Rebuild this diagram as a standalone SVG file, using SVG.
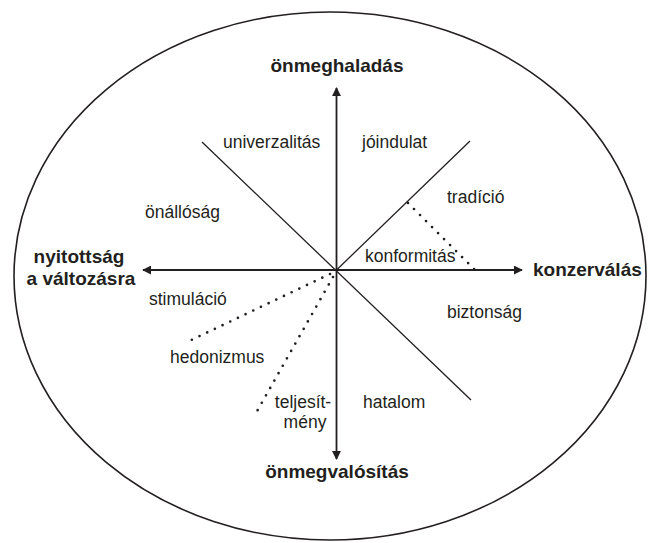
<svg xmlns="http://www.w3.org/2000/svg" width="651" height="543" viewBox="0 0 651 543">
<style>
.lbl{font-family:"Liberation Sans",Arial,sans-serif;font-size:17.5px;fill:#231f20}
.ttl{font-family:"Liberation Sans",Arial,sans-serif;font-size:19px;font-weight:bold;fill:#231f20}
.ln{stroke:#231f20;stroke-width:1.3;fill:none}
.ax{stroke:#231f20;stroke-width:1.8;fill:none}
.dot{stroke:#231f20;stroke-width:2.7;stroke-linecap:round;stroke-dasharray:0 8.5;fill:none}
</style>
<defs>
<marker id="ah" viewBox="0 0 10 10" refX="9" refY="5" markerWidth="5" markerHeight="5" orient="auto" markerUnits="strokeWidth">
<path d="M0,0 L10,5 L0,10 z" fill="#231f20"/>
</marker>
</defs>
<rect width="651" height="543" fill="#ffffff"/>
<g id="frame">
<ellipse cx="330" cy="276" rx="316" ry="264" fill="none" stroke="#231f20" stroke-width="1.6"/>
</g>
<g id="connectors">
<line class="ax" x1="336.5" y1="270" x2="336.5" y2="88" marker-end="url(#ah)"/>
<line class="ax" x1="336.5" y1="270" x2="336.5" y2="459" marker-end="url(#ah)"/>
<line class="ax" x1="336.5" y1="270" x2="143" y2="270" marker-end="url(#ah)"/>
<line class="ax" x1="336.5" y1="270" x2="522" y2="270" marker-end="url(#ah)"/>
<line class="ln" x1="202" y1="142" x2="471" y2="400"/>
<line class="ln" x1="336.5" y1="270" x2="470" y2="141"/>
<line class="dot" x1="408" y1="203" x2="476" y2="271"/>
<line class="dot" x1="330" y1="274" x2="185" y2="343"/>
<line class="dot" x1="333" y1="277" x2="256" y2="413"/>
</g>
<g id="node-onmeghaladas"><text class="ttl" x="337" y="72" text-anchor="middle">önmeghaladás</text></g>
<g id="node-onmegvalositas"><text class="ttl" x="337" y="478" text-anchor="middle">önmegvalósítás</text></g>
<g id="node-nyitottsag"><text class="ttl" x="79" y="263" text-anchor="middle">nyitottság</text><text class="ttl" x="81" y="285" text-anchor="middle">a változásra</text></g>
<g id="node-konzervalas"><text class="ttl" x="533" y="276">konzerválás</text></g>
<g id="node-univerzalitas"><text class="lbl" x="223" y="148">univerzalitás</text></g>
<g id="node-joindulat"><text class="lbl" x="362" y="148">jóindulat</text></g>
<g id="node-onallosag"><text class="lbl" x="145" y="218">önállóság</text></g>
<g id="node-tradicio"><text class="lbl" x="447" y="203">tradíció</text></g>
<g id="node-konformitas"><text class="lbl" x="365" y="262">konformitás</text></g>
<g id="node-stimulacio"><text class="lbl" x="149" y="305">stimuláció</text></g>
<g id="node-biztonsag"><text class="lbl" x="447" y="318">biztonság</text></g>
<g id="node-hedonizmus"><text class="lbl" x="170" y="363">hedonizmus</text></g>
<g id="node-teljesitmeny"><text class="lbl" x="303" y="408" text-anchor="middle">teljesít-</text><text class="lbl" x="305" y="428" text-anchor="middle">mény</text></g>
<g id="node-hatalom"><text class="lbl" x="363" y="408">hatalom</text></g>
</svg>
